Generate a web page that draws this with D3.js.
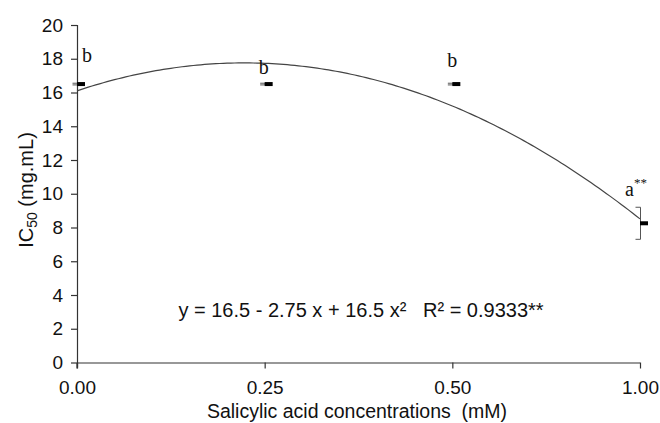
<!DOCTYPE html>
<html><head><meta charset="utf-8">
<script src="https://cdn.jsdelivr.net/npm/d3@7"></script>
<style>
body{margin:0;background:#fff;}
svg{display:block;}
text{font-family:Arial,"Liberation Sans",sans-serif;fill:#111;}
.serif{font-family:"Times New Roman","Liberation Serif",serif;}
</style></head><body>
<svg id="chart" width="660" height="423"></svg>
<script>
// ---- data ----
const categories = ["0.00", "0.25", "0.50", "1.00"];
const means = [16.5, 16.5, 16.5, 8.25];
const errors = [0.05, 0.05, 0.05, 0.95];
const letters = ["b", "b", "b", "a"];
const letterSup = ["", "", "", "**"];
const yTicks = [0, 2, 4, 6, 8, 10, 12, 14, 16, 18, 20];
// fitted trend line (in category-position units): y = c0 + c1*t + c2*t^2
const trendCoef = [16.1, 3.71, -2.08];
const equationText = "y = 16.5 - 2.75 x + 16.5 x²   R² = 0.9333**";

// ---- layout ----
const svg = d3.select("#chart");
const x = d3.scaleLinear().domain([0, categories.length - 1]).range([77, 640]);
const y = d3.scaleLinear().domain([0, 20]).range([362.5, 25]);
const letterLayout = [{dx: 10, dy: -21}, {dx: -1, dy: -9}, {dx: 0, dy: -16}, {dx: -4, dy: -11}];

// axes
const yAxis = d3.axisLeft(y).tickValues(yTicks).tickSize(6).tickPadding(8).tickFormat(d3.format("d"));
const gy = svg.append("g").attr("transform", `translate(${x(0)},0)`).call(yAxis);
const xAxis = d3.axisBottom(x).tickValues(d3.range(categories.length)).tickSize(6).tickPadding(8)
  .tickFormat(i => categories[i]);
const gx = svg.append("g").attr("transform", `translate(0,${y(0)})`).call(xAxis);
[gx, gy].forEach(g => {
  g.select(".domain").attr("stroke", "#333").attr("stroke-width", 1.2);
  g.selectAll(".tick line").attr("stroke", "#333").attr("stroke-width", 1.2);
  g.selectAll(".tick text").attr("font-size", 19).attr("fill", "#111")
    .style("font-family", "Arial, 'Liberation Sans', sans-serif");
});
gx.select(".domain").attr("d", `M${x(0)},0.5V6M${x(0)},0.5H${x(categories.length-1)}`);
gy.select(".domain").attr("d", `M0.5,${y(20)}V${y(0)+5}`);
gx.selectAll(".tick text").attr("dy", "0.9em");

// trend curve
const tPts = d3.range(0, categories.length - 1 + 0.0001, 0.02);
const line = d3.line().x(t => x(t)).y(t => y(trendCoef[0] + trendCoef[1]*t + trendCoef[2]*t*t)).curve(d3.curveLinear);
svg.append("path").datum(tPts).attr("d", line).attr("fill", "none").attr("stroke", "#444").attr("stroke-width", 1.2);

// error bars (bracket shape, caps to the left)
const eb = svg.append("g").attr("stroke", "#555").attr("stroke-width", 1).attr("fill", "none");
means.forEach((m, i) => {
  const xc = x(i) + 0.5, y1 = y(m + errors[i]), y2 = y(m - errors[i]);
  eb.append("path").attr("d", `M${xc-5},${y1}H${xc}V${y2}H${xc-5}`);
});

// mean markers
svg.append("g").selectAll("rect").data(means).join("rect")
  .attr("x", (d, i) => x(i)).attr("y", d => y(d) - 2)
  .attr("width", 8).attr("height", 4).attr("fill", "#000");

// letters
const lg = svg.append("g");
letters.forEach((l, i) => {
  const t = lg.append("text").attr("class", "serif").attr("font-size", 20).attr("fill", "#111")
    .attr("x", x(i) + letterLayout[i].dx).attr("y", y(means[i] + errors[i]) + letterLayout[i].dy)
    .attr("text-anchor", "middle").text(l);
  if (letterSup[i]) t.append("tspan").attr("font-size", 13).attr("dy", -9).attr("fill", "#111").text(letterSup[i]);
});

// equation
svg.append("text").attr("x", 361).attr("y", 317).attr("text-anchor", "middle")
  .attr("font-size", 20).style("white-space", "pre").text(equationText);

// axis titles
svg.append("text").attr("x", 357).attr("y", 418).attr("text-anchor", "middle")
  .attr("font-size", 19.5).style("white-space", "pre").text("Salicylic acid concentrations  (mM)");
const yl = svg.append("text").attr("transform", "translate(33,190) rotate(-90)")
  .attr("text-anchor", "middle").attr("font-size", 20);
yl.append("tspan").text("IC");
yl.append("tspan").attr("font-size", 14).attr("dy", 4).text("50");
yl.append("tspan").attr("dy", -4).text(" (mg.mL)");
</script>
</body></html>
